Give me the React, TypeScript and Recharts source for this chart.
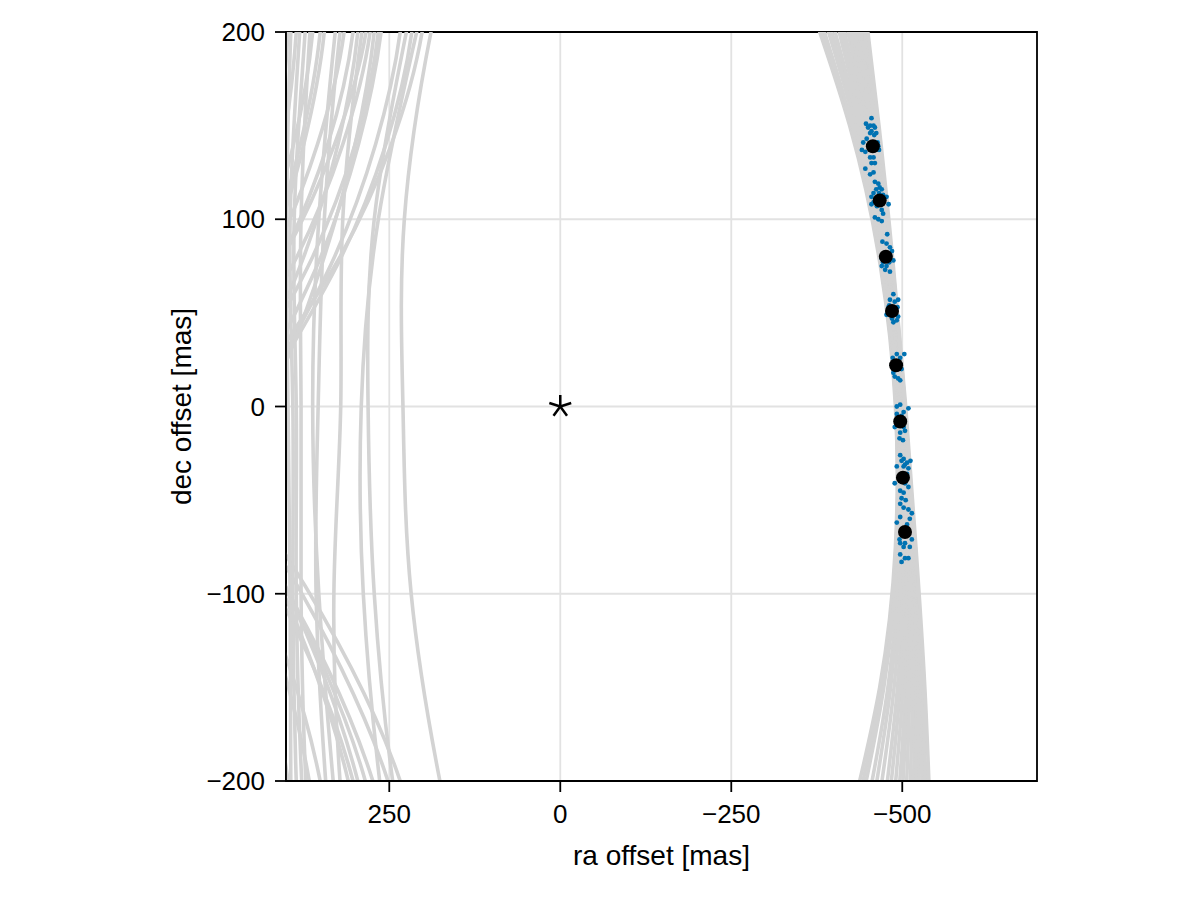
import { ComposedChart, Line, Scatter, XAxis, YAxis, CartesianGrid, ReferenceArea } from "recharts";

const FONT = "'Liberation Sans', Arial, Helvetica, sans-serif";

const X_TICKS = [250, 0, -250, -500];
const Y_TICKS = [-200, -100, 0, 100, 200];
const X_LIMITS = [-697, 401];
const Y_LIMITS = [-200, 200];

// dense family of orbit tracks through the measurements
const BAND_Y = [230, 150, 75, 0, -75, -150, -230];
const BAND_X = [
    [-351, -423, -468, -490, -490, -467, -418],
    [-355, -425, -469, -491, -491, -470, -424],
    [-360, -427, -470, -491, -493, -473, -430],
    [-367, -431, -471, -493, -495, -479, -440],
    [-373, -434, -473, -494, -497, -483, -449],
    [-379, -437, -474, -495, -499, -488, -458],
    [-387, -440, -475, -496, -502, -493, -468],
    [-392, -443, -477, -497, -504, -497, -475],
    [-397, -445, -478, -498, -506, -501, -483],
    [-403, -448, -479, -499, -507, -505, -490],
    [-407, -450, -480, -499, -509, -508, -496],
    [-412, -452, -481, -500, -510, -511, -503],
    [-416, -454, -482, -501, -512, -515, -509],
    [-421, -456, -483, -502, -513, -518, -515],
    [-424, -458, -483, -502, -515, -521, -520],
    [-428, -460, -484, -503, -516, -523, -525],
    [-431, -462, -485, -504, -517, -526, -530],
    [-434, -463, -486, -504, -518, -528, -534],
    [-437, -464, -486, -504, -519, -530, -537],
    [-440, -466, -487, -505, -520, -533, -542],
];

// far side arcs that stay in view over the whole height
const WIDE_Y = [260, 200, 100, 0, -100, -200, -260];
const WIDE_X = [
    [150, 189, 228, 230, 218, 176, 140],
    [195, 225, 272, 281, 272, 245, 215],
    [175, 210, 266, 291, 288, 264, 240],
    [265, 290, 318, 321, 331, 322, 305],
    [300, 322, 345, 354, 357, 343, 330],
    [310, 329, 353, 362, 353, 332, 315],
    [355, 366, 379, 379, 379, 372, 360],
    [365, 373, 389, 386, 386, 378, 368],
    [375, 381, 395, 391, 391, 386, 378],
    [385, 394, 400, 398, 395, 394, 388],
];

// arcs leaving the frame on the left
const UPPER_Y = [260, 200, 140, 80, 20, -40];
const UPPER_X = [
    [187, 202, 247, 322, 427],
    [205, 217, 255, 320, 412],
    [222, 234, 270, 330, 415],
    [250, 262, 295, 350, 428],
    [258, 266, 300, 362, 450],
    [262, 272, 300, 345, 405, 480],
    [268, 278, 318, 385, 480],
    [272, 284, 330, 405, 510],
    [288, 296, 325, 375, 445],
    [294, 303, 340, 405, 490],
    [308, 316, 355, 420, 510],
    [338, 345, 375, 425, 495],
    [344, 351, 380, 428, 495],
    [356, 362, 390, 440, 510],
    [381, 386, 405, 440, 490],
    [395, 398, 415, 445],
];

const LOWER_Y = [-260, -200, -140, -80, -20];
const LOWER_X = [
    [380, 398, 430, 480],
    [345, 367, 405, 460],
    [325, 351, 395, 458],
    [280, 310, 360, 430, 520],
    [268, 303, 360, 440],
    [262, 296, 350, 425, 520],
    [250, 285, 345, 425, 525],
    [232, 274, 340, 430, 540],
    [212, 252, 320, 410, 520],
    [190, 234, 305, 400, 510],
];

// measured epochs
const EPOCH_RA = [-457, -467, -476, -485, -491, -497, -501, -504];
const EPOCH_DEC = [139, 110, 80, 51, 22, -8, -38, -67];

// posterior draws at each epoch, [ra, dec]
const DRAWS = [
    [-455, 154], [-447, 151], [-453, 150], [-458, 150], [-450, 149], [-460, 149],
    [-455, 147], [-462, 146], [-453, 146], [-459, 145], [-448, 143], [-443, 141],
    [-441, 137], [-446, 136], [-464, 141], [-465, 139], [-466, 137], [-453, 133],
    [-458, 133], [-455, 130], [-460, 130], [-446, 127], [-458, 125], [-453, 124],
    [-460, 120], [-465, 119], [-467, 117], [-462, 116], [-470, 116], [-458, 114],
    [-466, 114], [-472, 113], [-455, 112], [-477, 112], [-458, 109], [-480, 108],
    [-455, 108], [-463, 107], [-470, 105], [-472, 103], [-460, 101], [-465, 100],
    [-470, 99],
    [-478, 92], [-471, 88], [-477, 87], [-482, 85], [-485, 83], [-470, 79],
    [-487, 78], [-481, 77], [-472, 77], [-477, 75], [-470, 75], [-475, 73], [-482, 72],
    [-487, 60], [-482, 57], [-489, 56], [-494, 57], [-481, 54], [-493, 53],
    [-480, 53], [-477, 49], [-494, 48], [-485, 47], [-492, 46], [-487, 45],
    [-503, 28], [-492, 28], [-486, 26], [-497, 26], [-485, 22], [-499, 20],
    [-487, 18], [-489, 16], [-494, 15], [-497, 14],
    [-497, 1], [-492, 0], [-509, -1], [-502, -3], [-492, -4], [-499, -5],
    [-494, -7], [-489, -11], [-502, -11], [-504, -13], [-497, -14], [-496, -17], [-501, -18],
    [-497, -26], [-502, -28], [-512, -29], [-499, -29], [-507, -30], [-504, -31],
    [-492, -32], [-502, -32], [-509, -33], [-507, -36], [-489, -41], [-504, -41],
    [-509, -43], [-497, -45], [-502, -46], [-499, -49], [-505, -50], [-497, -52],
    [-502, -54], [-509, -55], [-514, -57], [-497, -59],
    [-511, -60], [-492, -62], [-507, -63], [-496, -71], [-514, -71], [-497, -73],
    [-504, -73], [-511, -75], [-502, -75], [-497, -79], [-504, -81], [-509, -81], [-499, -83],
];

const STAR = [{ x: 0, y: 0 }];

const fmt = (v: number) => (v < 0 ? `\u2212${Math.abs(v)}` : `${v}`);

const toTrack = (xs: number[], ys: number[]) => xs.map((x, i) => ({ x, y: ys[i] }));
const tracks = [
    ...UPPER_X.map((xs) => toTrack(xs, UPPER_Y)),
    ...LOWER_X.map((xs) => toTrack(xs, LOWER_Y)),
    ...WIDE_X.map((xs) => toTrack(xs, WIDE_Y)),
    ...BAND_X.map((xs) => toTrack(xs, BAND_Y)),
];
const epochs = toTrack(EPOCH_RA, EPOCH_DEC);
const draws = DRAWS.map(([x, y]) => ({ x, y }));

function XTitle(props: any) {
    const { viewBox } = props;
    const cx = viewBox.x + viewBox.width / 2;
    const cy = viewBox.y + 74;
    return (
        <text x={cx} y={cy} textAnchor="middle" dominantBaseline="central" fontSize={28} fontFamily={FONT} fill="#000">
            ra offset [mas]
        </text>
    );
}

function YTitle(props: any) {
    const { viewBox } = props;
    const cx = viewBox.x - 25;
    const cy = viewBox.y + viewBox.height / 2;
    return (
        <text
            x={cx}
            y={cy}
            transform={`rotate(-90 ${cx} ${cy})`}
            textAnchor="middle"
            dominantBaseline="central"
            fontSize={28}
            fontFamily={FONT}
            fill="#000"
        >
            dec offset [mas]
        </text>
    );
}

function Asterisk(props: any) {
    const { cx, cy } = props;
    const arms = [0, 72, 144, 216, 288].map((deg) => {
        const r = (deg * Math.PI) / 180;
        return [cx + 11.5 * Math.sin(r), cy - 11.5 * Math.cos(r)];
    });
    return (
        <g>
            {arms.map(([x, y], i) => (
                <line key={i} x1={cx} y1={cy} x2={x} y2={y} stroke="#000" strokeWidth={2.5} />
            ))}
        </g>
    );
}

const Dot = (r: number, fill: string) => (props: any) =>
    <circle cx={props.cx} cy={props.cy} r={r} fill={fill} />;

export default function App() {
    const tick = { fill: "#000", fontSize: 26, fontFamily: FONT };
    const line = { stroke: "#000", strokeWidth: 1.8 };
    return (
        <div style={{ fontFamily: FONT }}>
            <ComposedChart width={1176} height={873} margin={{ top: 24, right: 147, bottom: 20, left: 198 }}>
                <CartesianGrid stroke="#e2e2e2" strokeWidth={1.8} />
                <XAxis
                    type="number"
                    dataKey="x"
                    domain={X_LIMITS}
                    reversed
                    allowDataOverflow
                    ticks={X_TICKS}
                    interval={0}
                    tickFormatter={fmt}
                    tickSize={11}
                    tickMargin={13}
                    height={80}
                    tick={tick}
                    axisLine={line}
                    tickLine={line}
                    label={<XTitle />}
                />
                <YAxis
                    type="number"
                    dataKey="y"
                    domain={Y_LIMITS}
                    allowDataOverflow
                    ticks={Y_TICKS}
                    interval={0}
                    tickFormatter={fmt}
                    tickSize={11}
                    tickMargin={10}
                    width={80}
                    tick={tick}
                    axisLine={line}
                    tickLine={line}
                    label={<YTitle />}
                />
                {tracks.map((pts, i) => (
                    <Line
                        key={`t${i}`}
                        data={pts}
                        dataKey="y"
                        type="natural"
                        stroke="#d3d3d3"
                        strokeWidth={3.6}
                        dot={false}
                        activeDot={false}
                        isAnimationActive={false}
                    />
                ))}
                <Scatter data={draws} fill="#0072b2" shape={Dot(2.4, "#0072b2")} isAnimationActive={false} />
                <Scatter data={epochs} fill="#000" shape={Dot(7, "#000")} isAnimationActive={false} />
                <Scatter data={STAR} fill="#000" shape={<Asterisk />} isAnimationActive={false} />
                <ReferenceArea
                    x1={X_LIMITS[1]}
                    x2={X_LIMITS[0]}
                    y1={Y_LIMITS[0]}
                    y2={Y_LIMITS[1]}
                    fill="none"
                    fillOpacity={0}
                    stroke="#000"
                    strokeWidth={1.8}
                    ifOverflow="visible"
                />
            </ComposedChart>
        </div>
    );
}
